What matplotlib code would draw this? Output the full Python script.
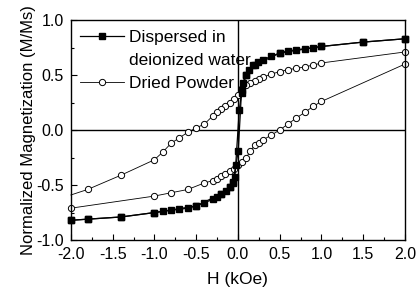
import matplotlib
matplotlib.use('Agg')
import matplotlib.pyplot as plt
from matplotlib.ticker import MultipleLocator
from matplotlib.lines import Line2D

plt.rcParams['font.family'] = ['Liberation Sans', 'DejaVu Sans']

# Dispersed in deionized water (filled squares)
disp_down_h = [2.0, 1.5, 1.0, 0.9, 0.8, 0.7, 0.6, 0.5, 0.4, 0.3, 0.24, 0.18, 0.135, 0.10, 0.056, 0.044, 0.016,
               -0.036, -0.06, -0.10, -0.14, -0.20, -0.25, -0.30, -0.40, -0.50, -0.60, -0.70, -0.80, -0.90, -1.0,
               -1.4, -1.8, -2.0]
disp_down_m = [0.83, 0.80, 0.76, 0.75, 0.74, 0.73, 0.72, 0.70, 0.67, 0.64, 0.62, 0.59, 0.55, 0.50, 0.43, 0.34, 0.18,
               -0.43, -0.48, -0.52, -0.55, -0.58, -0.61, -0.63, -0.66, -0.69, -0.71, -0.72, -0.73, -0.74, -0.75,
               -0.79, -0.81, -0.82]
disp_up_h = [-2.0, -1.8, -1.4, -1.0, -0.5, -0.2, -0.10, -0.06, -0.024, 0.004, 0.044, 0.10, 0.2, 0.5, 1.0, 1.5, 2.0]
disp_up_m = [-0.82, -0.81, -0.79, -0.75, -0.69, -0.58, -0.52, -0.47, -0.32, -0.19, 0.36, 0.50, 0.59, 0.70, 0.76, 0.80, 0.83]

# Dried powder (open circles)
pow_down_h = [2.0, 1.0, 0.9, 0.8, 0.7, 0.6, 0.5, 0.4, 0.3, 0.25, 0.2, 0.15, 0.1, 0.05, 0.0, -0.05, -0.1, -0.15,
              -0.2, -0.25, -0.3, -0.4, -0.5, -0.6, -0.7, -0.8, -0.9, -1.0, -1.4, -1.8, -2.0]
pow_down_m = [0.71, 0.61, 0.59, 0.575, 0.56, 0.55, 0.53, 0.51, 0.48, 0.46, 0.45, 0.43, 0.41, 0.38, 0.32, 0.28, 0.25,
              0.22, 0.19, 0.16, 0.13, 0.055, 0.02, -0.02, -0.07, -0.12, -0.20, -0.27, -0.41, -0.54, -0.59]
pow_up_h = [-2.0, -1.0, -0.8, -0.6, -0.4, -0.3, -0.25, -0.2, -0.15, -0.1, -0.05, 0.0, 0.05, 0.1, 0.15, 0.2, 0.25,
            0.3, 0.4, 0.5, 0.6, 0.7, 0.8, 0.9, 1.0, 2.0]
pow_up_m = [-0.71, -0.60, -0.57, -0.54, -0.48, -0.46, -0.445, -0.42, -0.40, -0.375, -0.35, -0.32, -0.29, -0.25,
            -0.19, -0.14, -0.12, -0.09, -0.045, 0.0, 0.055, 0.11, 0.16, 0.215, 0.26, 0.60]

fig = plt.figure(figsize=(4.17, 2.91), dpi=100)
ax = fig.add_axes([0.170, 0.175, 0.801, 0.756])

ax.axhline(0, color='black', lw=1.0, zorder=1)
ax.axvline(0, color='black', lw=1.0, zorder=1)

sq = dict(color='black', lw=0.9, marker='s', ms=4.5, clip_on=False, zorder=3)
ci = dict(color='black', lw=0.6, marker='o', ms=4.5, mfc='white', mec='black', mew=0.7, clip_on=False, zorder=2)

h1, = ax.plot(disp_down_h, disp_down_m, **sq)
ax.plot(disp_up_h, disp_up_m, **sq)
h2, = ax.plot(pow_down_h, pow_down_m, markevery=slice(0, -1), **ci)
ax.plot(pow_up_h, pow_up_m, **ci)

ax.set_xlim(-2.0, 2.0)
ax.set_ylim(-1.0, 1.0)
ax.xaxis.set_major_locator(MultipleLocator(0.5))
ax.xaxis.set_minor_locator(MultipleLocator(0.25))
ax.yaxis.set_major_locator(MultipleLocator(0.5))
ax.yaxis.set_minor_locator(MultipleLocator(0.25))
ax.xaxis.set_major_formatter(plt.FormatStrFormatter('%.1f'))
ax.yaxis.set_major_formatter(plt.FormatStrFormatter('%.1f'))
ax.tick_params(which='both', direction='in', labelsize=11.5, width=0.8)
ax.tick_params(which='major', length=4)
ax.tick_params(which='minor', length=2.5)
ax.tick_params(axis='x', which='major', pad=5)
ax.tick_params(axis='y', which='major', pad=5)
for s in ax.spines.values():
    s.set_linewidth(1.0)

ax.set_xlabel('H (kOe)', fontsize=12.5, labelpad=7)
ax.set_ylabel('Normalized Magnetization (M/Ms)', fontsize=12, labelpad=0)

blank = Line2D([], [], color='none')
ax.legend([h1, blank, h2], ['Dispersed in', 'deionized water', 'Dried Powder'],
          loc='upper left', frameon=False, fontsize=12.5, handlelength=2.5, handletextpad=0.3,
          borderaxespad=0.35, borderpad=0.2, labelspacing=0.45)

fig.savefig('out.png', dpi=100)
